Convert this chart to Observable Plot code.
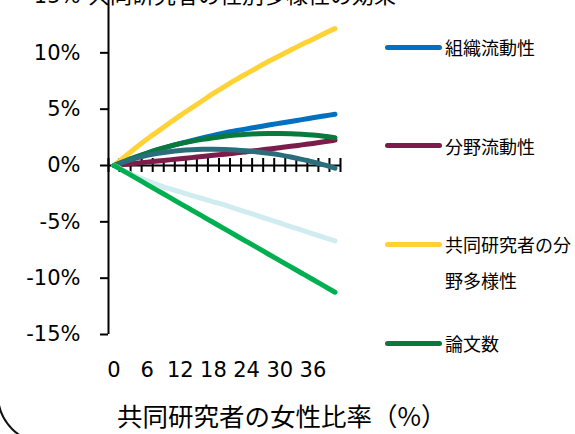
<!DOCTYPE html>
<html><head><meta charset="utf-8">
<script src="https://cdn.jsdelivr.net/npm/d3@7"></script>
<script src="https://cdn.jsdelivr.net/npm/@observablehq/plot@0.6"></script>
<style>
html,body{margin:0;padding:0;background:#fff;}
#wrap{position:relative;width:575px;height:434px;overflow:hidden;background:#fff;font-family:"Noto Sans CJK JP","Noto Sans",sans-serif;color:#000;}
#chart{position:absolute;left:0;top:-14px;}
.title{position:absolute;left:88px;top:-18px;font-size:22px;line-height:22px;white-space:nowrap;}
.xlabel{position:absolute;left:117px;top:399px;font-size:25.5px;line-height:32px;white-space:nowrap;}
.leg{position:absolute;left:385px;width:190px;height:80px;}
.leg .sw{position:absolute;left:0;top:15.5px;width:57px;height:5px;border-radius:3px;}
.leg .tx{position:absolute;left:60px;top:0;width:130px;font-size:18px;line-height:36px;}
.frame{position:absolute;left:-3px;top:-500px;width:700px;height:944px;border:2px solid #111;border-radius:49px;box-sizing:border-box;}
</style>
</head><body>
<div id="wrap">
  <div id="chart"></div>
  <div class="title" id="title"></div>
  <div class="xlabel" id="xlabel"></div>
  <div id="legend"></div>
  <div class="frame"></div>
</div>
<script>
const titleText = "共同研究者の性別多様性の効果";
const xTitle = "共同研究者の女性比率（%）";
const xs = [0,2,4,6,8,10,12,14,16,18,20,22,24,26,28,30,32,34,36,38,40];
const xTickLabels = [0,6,12,18,24,30,36];
const yTicks = [-15,-10,-5,0,5,10,15];
const seriesNames = ["組織流動性","分野流動性","共同研究者の分野多様性","論文数","系列5","系列6","系列7"];
const seriesColors = ["#0070C0","#7B1C4A","#FFD335","#0A793C","#2B6E7B","#D1ECF1","#00B050"];
const legendNames = ["組織流動性","分野流動性","共同研究者の分野多様性","論文数"];
const sOrg   = [0,0.38,0.74,1.08,1.4,1.7,1.96,2.2,2.44,2.67,2.9,3.08,3.25,3.42,3.59,3.75,3.91,4.07,4.23,4.39,4.55];
const sField = [0,0.1,0.2,0.3,0.4,0.5,0.6,0.7,0.8,0.9,1.0,1.1,1.22,1.34,1.46,1.58,1.7,1.83,1.96,2.1,2.25];
const sDiv   = [0,0.8,1.6,2.35,3.05,3.75,4.45,5.1,5.75,6.4,7.0,7.6,8.15,8.7,9.25,9.75,10.25,10.75,11.2,11.7,12.15];
const sPaper = [0,0.4,0.76,1.1,1.42,1.7,1.94,2.14,2.32,2.47,2.6,2.7,2.77,2.82,2.84,2.84,2.82,2.77,2.7,2.6,2.47];
const s5     = [0,0.35,0.65,0.9,1.08,1.22,1.33,1.4,1.44,1.45,1.43,1.38,1.3,1.2,1.08,0.94,0.75,0.54,0.31,0.05,-0.24];
const s6     = [0,-0.5,-0.95,-1.35,-1.72,-2.05,-2.35,-2.65,-2.93,-3.22,-3.5,-3.82,-4.14,-4.46,-4.78,-5.1,-5.42,-5.74,-6.06,-6.38,-6.7];
const s7     = [0,-0.56,-1.12,-1.69,-2.25,-2.81,-3.38,-3.94,-4.5,-5.06,-5.62,-6.19,-6.75,-7.31,-7.88,-8.44,-9.0,-9.56,-10.12,-10.69,-11.25];
const allSeries = [sOrg,sField,sDiv,sPaper,s5,s6,s7];

const rows = [];
allSeries.forEach((vals, si) => vals.forEach((v, i) => rows.push({s: seriesNames[si], x: xs[i], v})));

const tickPos = d3.range(-1, 42, 2);

const plot = Plot.plot({
  width: 575, height: 448,
  marginLeft: 108, marginRight: 235, marginTop: 10, marginBottom: 100,
  x: {domain: [-1, 41]},
  y: {domain: [-15, 15]},
  color: {domain: seriesNames, range: seriesColors},
  style: {fontFamily: "DejaVu Sans", fontSize: "21px", color: "#000", background: "transparent", overflow: "visible"},
  marks: [
    Plot.axisY({ticks: yTicks, tickFormat: d => d + "%", tickSize: 8, tickPadding: 20, strokeWidth: 2, fontSize: 21, label: null}),
    Plot.axisX({ticks: xTickLabels, tickSize: 0, tickPadding: 28, fontSize: 21, label: null}),
    Plot.ruleX([-1], {strokeWidth: 2}),
    Plot.ruleY([0], {strokeWidth: 2}),
    Plot.ruleX(tickPos, {x: d => d, y1: 0, y2: 0, insetTop: -7, insetBottom: -7, strokeWidth: 2}),
    Plot.line(rows, {x: "x", y: "v", z: "s", stroke: "s", strokeWidth: 5, curve: "natural", strokeLinecap: "round", strokeLinejoin: "round"})
  ]
});
document.getElementById("chart").appendChild(plot);
document.getElementById("title").textContent = titleText;
document.getElementById("xlabel").textContent = xTitle;

const leg = document.getElementById("legend");
legendNames.forEach((name, i) => {
  const yc = 47 + i * 98.7;
  const item = document.createElement("div");
  item.className = "leg";
  item.style.top = (yc - 18) + "px";
  const sw = document.createElement("div");
  sw.className = "sw";
  sw.style.background = seriesColors[seriesNames.indexOf(name)];
  const tx = document.createElement("div");
  tx.className = "tx";
  tx.textContent = name;
  item.appendChild(sw); item.appendChild(tx);
  leg.appendChild(item);
});
</script>
</body></html>
